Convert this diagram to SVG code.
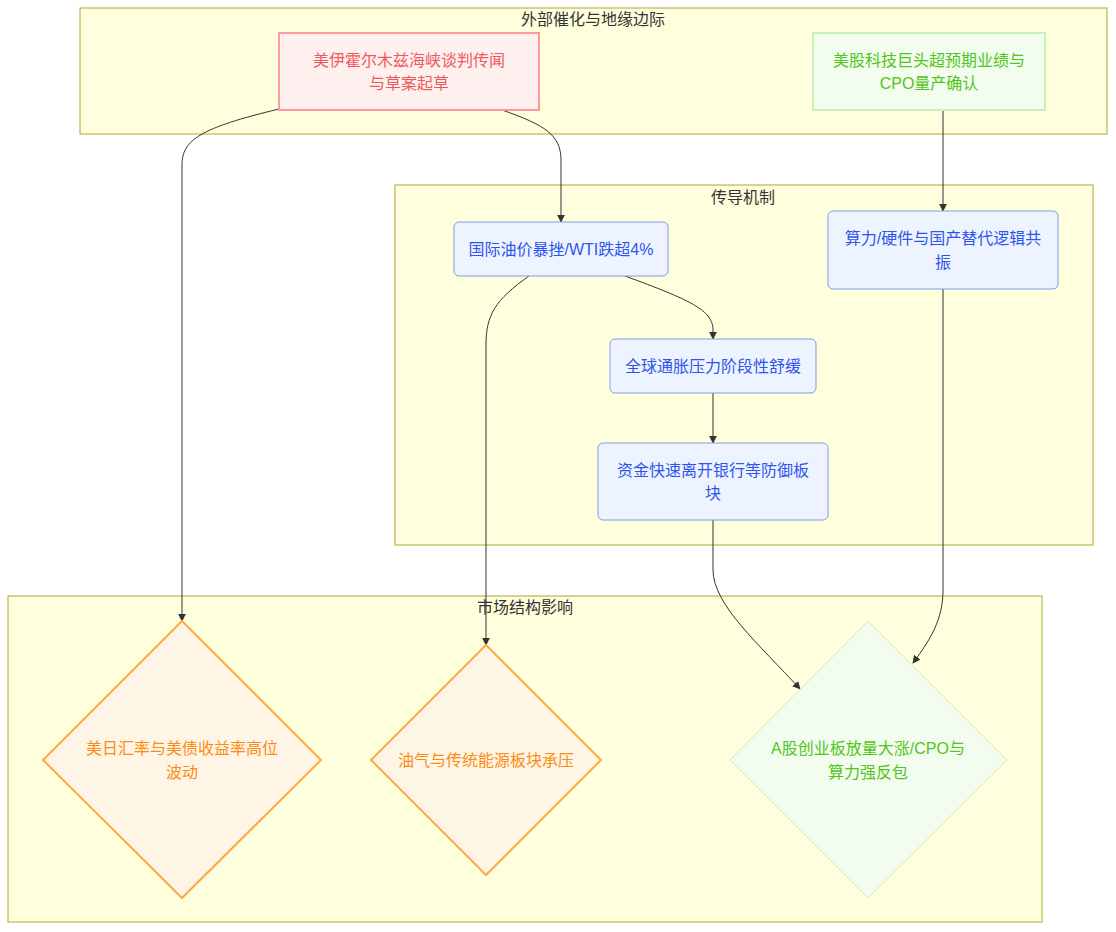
<svg xmlns="http://www.w3.org/2000/svg" width="1116" height="932" viewBox="0 0 1116 932">
<style>
text{font-family:"Liberation Sans","Noto Sans CJK SC",sans-serif;font-size:16px;text-anchor:middle;dominant-baseline:central}
.cl{fill:#ffffde;stroke:#aaaa33;stroke-width:1}
.ct{fill:#333}
.edge{fill:none;stroke:#333;stroke-width:1}
.red rect{fill:#fff0f0;stroke:#ff9999;stroke-width:2}
.red text{fill:#ee5a5a}
.grn rect,.grn polygon{fill:#f3fdef;stroke:#c9f0b7;stroke-width:2}
.grn polygon{stroke-width:1}
.grn text{fill:#52c41a}
.blu rect{fill:#eef4ff;stroke:#7d9be6;stroke-width:1}
.blu text{fill:#2f54eb}
.org polygon{fill:#fff5e6;stroke:#ffa940;stroke-width:2}
.org text{fill:#fa8c16}
</style>
<defs>
<marker id="ah" viewBox="0 0 10 10" refX="9" refY="5" markerWidth="8" markerHeight="8" markerUnits="userSpaceOnUse" orient="auto">
<path d="M0,0 L10,5 L0,10 z" fill="#333"/>
</marker>
</defs>
<g id="clusters">
<g id="cluster-ext"><rect class="cl" x="80" y="8" width="1027" height="126"/><text class="ct" x="593" y="19">外部催化与地缘边际</text></g>
<g id="cluster-mech"><rect class="cl" x="395" y="185" width="698" height="360"/><text class="ct" x="743" y="197">传导机制</text></g>
<g id="cluster-mkt"><rect class="cl" x="8" y="596" width="1034" height="326"/><text class="ct" x="525" y="607">市场结构影响</text></g>
</g>
<g id="edges">
<path class="edge" marker-end="url(#ah)" d="M279,109 C200,128 182,140 182,165 L182,621"/>
<path class="edge" marker-end="url(#ah)" d="M502,110 C545,125 561,135 561,160 L561,222"/>
<path class="edge" marker-end="url(#ah)" d="M943,110 L943,211"/>
<path class="edge" marker-end="url(#ah)" d="M529,276 C495,300 486,315 486,345 L486,645"/>
<path class="edge" marker-end="url(#ah)" d="M625,276 C690,300 713,310 713,330 L713,339"/>
<path class="edge" marker-end="url(#ah)" d="M713,393 L713,443"/>
<path class="edge" marker-end="url(#ah)" d="M713,520 L713,570 C713,605 760,645 800,689"/>
<path class="edge" marker-end="url(#ah)" d="M943,289 L943,590 C943,620 930,640 913,663"/>
</g>
<g id="n-A" class="red"><rect x="279" y="33" width="260" height="77"/><text x="409" y="60">美伊霍尔木兹海峡谈判传闻</text><text x="409" y="83">与草案起草</text></g>
<g id="n-B" class="grn"><rect x="813" y="33" width="232" height="77"/><text x="929" y="60">美股科技巨头超预期业绩与</text><text x="929" y="83">CPO量产确认</text></g>
<g id="n-C" class="blu"><rect x="454" y="222" width="214" height="54" rx="5"/><text x="561" y="249">国际油价暴挫/WTI跌超4%</text></g>
<g id="n-D" class="blu"><rect x="828" y="211" width="230" height="78" rx="5"/><text x="943" y="238">算力/硬件与国产替代逻辑共</text><text x="943" y="262">振</text></g>
<g id="n-E" class="blu"><rect x="610" y="339" width="206" height="54" rx="5"/><text x="713" y="366">全球通胀压力阶段性舒缓</text></g>
<g id="n-F" class="blu"><rect x="598" y="443" width="230" height="77" rx="5"/><text x="713" y="470">资金快速离开银行等防御板</text><text x="713" y="493">块</text></g>
<g id="n-G" class="org"><polygon points="182,621 321,760 182,898 43,760"/><text x="182" y="748">美日汇率与美债收益率高位</text><text x="182" y="772">波动</text></g>
<g id="n-H" class="org"><polygon points="486,645 601,760 486,875 371,760"/><text x="486" y="760">油气与传统能源板块承压</text></g>
<g id="n-I" class="grn"><polygon points="868,621 1007,760 868,898 730,760"/><text x="868" y="748">A股创业板放量大涨/CPO与</text><text x="868" y="772">算力强反包</text></g>
</svg>
